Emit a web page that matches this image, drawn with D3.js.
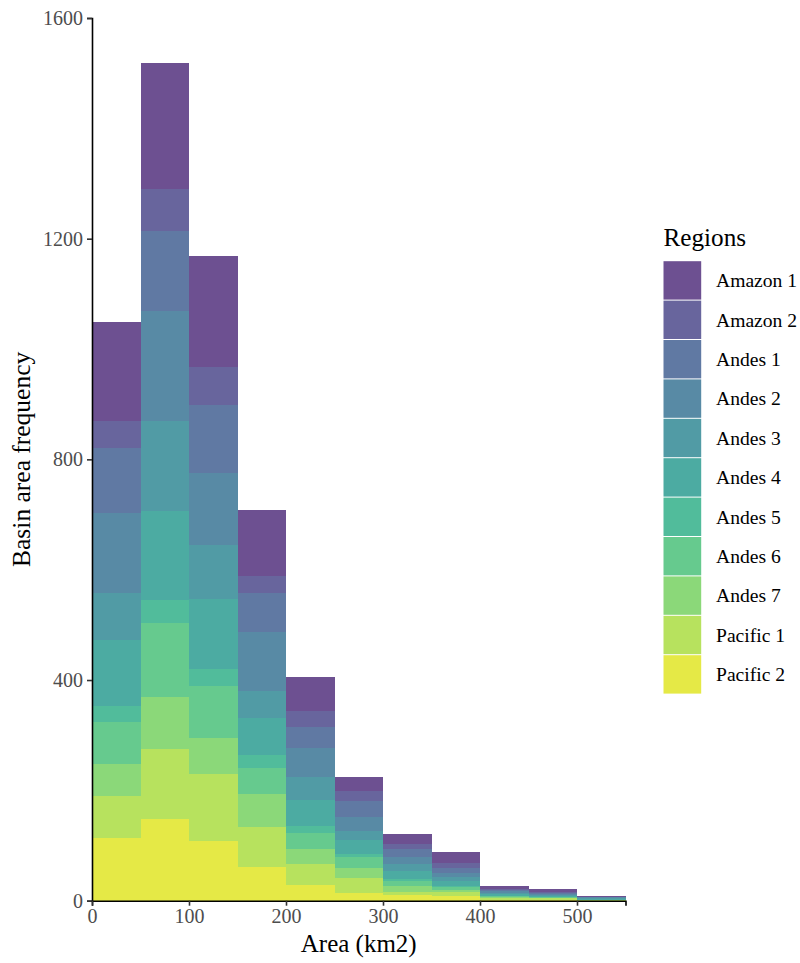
<!DOCTYPE html>
<html>
<head>
<meta charset="utf-8">
<script src="https://cdn.jsdelivr.net/npm/d3@7"></script>
<style>
  html, body { margin: 0; padding: 0; background: #ffffff; }
  svg { display: block; font-family: "Liberation Serif", "Times New Roman", serif; }
</style>
</head>
<body>
<svg id="chart" width="800" height="963"></svg>
<script>
// Histogram bins (km2): each bin is [start, start + binWidth)
const binStarts = [0, 50, 100, 150, 200, 250, 300, 350, 400, 450, 500];
const binWidth = 50;

// Region names, legend order (top of stack first)
const regions = ["Amazon 1", "Amazon 2", "Andes 1", "Andes 2", "Andes 3", "Andes 4",
                 "Andes 5", "Andes 6", "Andes 7", "Pacific 1", "Pacific 2"];

// Basin counts per bin for each region
const amazon1  = [179, 229, 201, 119, 62, 26, 17, 19, 4, 5, 1];
const amazon2  = [49, 76, 69, 32, 29, 17, 9, 9, 2, 2, 0];
const andes1   = [118, 146, 124, 70, 38, 29, 14, 9, 3, 2, 1];
const andes2   = [146, 198, 130, 106, 52, 25, 13, 8, 3, 2, 1];
const andes3   = [84, 163, 98, 50, 41, 17, 13, 7, 2, 2, 2];
const andes4   = [120, 162, 127, 66, 47, 25, 15, 9, 3, 2, 1];
const andes5   = [29, 42, 30, 25, 13, 6, 3, 2, 1, 0, 0];
const andes6   = [76, 134, 95, 46, 29, 19, 9, 6, 2, 1, 1];
const andes7   = [59, 94, 66, 60, 27, 19, 11, 4, 2, 1, 0];
const pacific1 = [75, 127, 120, 73, 39, 27, 6, 6, 2, 2, 1];
const pacific2 = [114, 148, 109, 61, 28, 14, 10, 9, 2, 2, 0];

const seriesValues = [amazon1, amazon2, andes1, andes2, andes3, andes4,
                      andes5, andes6, andes7, pacific1, pacific2];

// Axis ticks
const xTicks = [0, 100, 200, 300, 400, 500];
const yTicks = [0, 400, 800, 1200, 1600];

const svg = d3.select("#chart");

// Layout
const plotLeft = 92, plotRight = 625.5, plotTop = 18, plotBottom = 900.7;

const x = d3.scaleLinear().domain([0, 550]).range([plotLeft, plotRight]);
const y = d3.scaleLinear().domain([0, 1600]).range([plotBottom, plotTop]);

// Viridis palette (begin 0.1, end 0.95) drawn at 80% opacity over white
const colour = d3.scaleOrdinal()
  .domain(regions)
  .range(regions.map((r, i) => {
    const c = d3.interpolateViridis(0.1 + i * (0.85 / (regions.length - 1)));
    return d3.interpolateRgb("#ffffff", c)(0.8);
  }));

// Table: one row per bin, one column per region
const table = binStarts.map((b, j) => {
  const row = { start: b };
  regions.forEach((r, i) => { row[r] = seriesValues[i][j]; });
  return row;
});

// Stack with Pacific 2 at the bottom and Amazon 1 on top
const stack = d3.stack().keys(regions.slice().reverse());
const layers = stack(table);

svg.append("g")
  .selectAll("g")
  .data(layers)
  .join("g")
    .attr("fill", d => colour(d.key))
  .selectAll("rect")
  .data(d => d)
  .join("rect")
    .attr("x", d => x(d.data.start))
    .attr("width", d => x(d.data.start + binWidth) - x(d.data.start))
    .attr("y", d => y(d[1]))
    .attr("height", d => Math.max(0, y(d[0]) - y(d[1])))
    .attr("shape-rendering", "crispEdges");

// Y axis
const yAxis = d3.axisLeft(y).tickValues(yTicks).tickSize(5).tickPadding(4).tickFormat(d3.format("d"));
const gy = svg.append("g").attr("transform", `translate(${plotLeft},0)`).call(yAxis);
gy.select(".domain").attr("stroke", "#000").attr("stroke-width", 1.6);
gy.selectAll(".tick line").attr("stroke", "#333").attr("stroke-width", 1.6);
gy.selectAll(".tick text")
  .attr("fill", "#4d4d4d")
  .attr("font-size", 20)
  .attr("font-family", "Liberation Serif, Times New Roman, serif");

// X axis
const xAxis = d3.axisBottom(x).tickValues(xTicks).tickSize(5).tickPadding(3).tickFormat(d3.format("d"));
const gx = svg.append("g").attr("transform", `translate(0,${plotBottom})`).call(xAxis);
gx.select(".domain").attr("stroke", "#000").attr("stroke-width", 1.6);
gx.selectAll(".tick line").attr("stroke", "#333").attr("stroke-width", 1.6);
gx.selectAll(".tick text")
  .attr("fill", "#4d4d4d")
  .attr("font-size", 20)
  .attr("font-family", "Liberation Serif, Times New Roman, serif");

// Axis titles
svg.append("text")
  .attr("x", (plotLeft + plotRight) / 2)
  .attr("y", 952)
  .attr("text-anchor", "middle")
  .attr("font-size", 25)
  .attr("fill", "#000")
  .text("Area (km2)");

svg.append("text")
  .attr("transform", `translate(30,${(plotTop + plotBottom) / 2}) rotate(-90)`)
  .attr("text-anchor", "middle")
  .attr("font-size", 25.5)
  .attr("fill", "#000")
  .text("Basin area frequency");

// Legend
const legend = svg.append("g").attr("transform", "translate(663,0)");
legend.append("text")
  .attr("x", 0.5)
  .attr("y", 246)
  .attr("font-size", 25.2)
  .attr("fill", "#000")
  .text("Regions");

const keyTop = 260.7, keyH = 39.4, keyW = 38.7;
const items = legend.selectAll("g.item")
  .data(regions)
  .join("g")
    .attr("class", "item")
    .attr("transform", (d, i) => `translate(0,${keyTop + i * keyH})`);

items.append("rect")
  .attr("x", 0.5)
  .attr("y", 0.5)
  .attr("width", keyW - 1)
  .attr("height", keyH - 1)
  .attr("fill", d => colour(d));

items.append("text")
  .attr("x", 53)
  .attr("y", keyH / 2)
  .attr("dy", "0.35em")
  .attr("font-size", 19.6)
  .attr("fill", "#000")
  .text(d => d);
</script>
</body>
</html>
